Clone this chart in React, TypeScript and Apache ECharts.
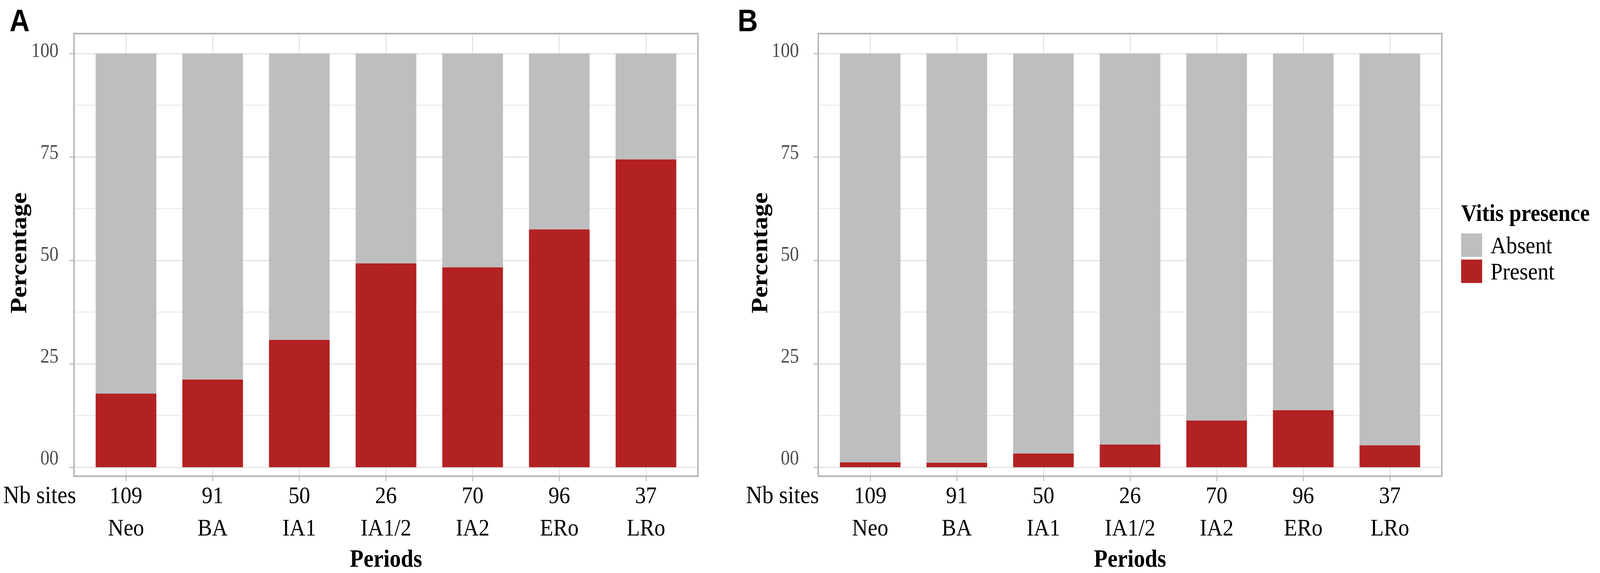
import React, { useEffect, useRef } from "react";
import * as echarts from "echarts";

// ---- data ----
const periods = ["Neo", "BA", "IA1", "IA1/2", "IA2", "ERo", "LRo"];
const nbSites = [109, 91, 50, 26, 70, 96, 37];
const yTickLabels = ["00", "25", "50", "75", "100"];

const presentA = [17.8, 21.2, 30.8, 49.3, 48.3, 57.5, 74.4];
const absentA = [82.2, 78.8, 69.2, 50.7, 51.7, 42.5, 25.6];
const presentB = [1.2, 1.1, 3.3, 5.5, 11.3, 13.8, 5.3];
const absentB = [98.8, 98.9, 96.7, 94.5, 88.7, 86.2, 94.7];

const COLOR_PRESENT = "#B22222";
const COLOR_ABSENT = "#BEBEBE";
const GRID_COLOR = "#DEDEDE";
const FRAME_COLOR = "#B3B3B3";
const SERIF = "'Liberation Serif', 'Times New Roman', serif";
const SANS = "'Liberation Sans', Arial, sans-serif";

const REF_W = 4562;
const REF_H = 1468;
const FRAME_TOP = 86;
const FRAME_H = 1134;
const Y100 = 137;
const Y0 = 1197;
const LABEL_TOP = 129;
const LABEL_BOTTOM = 1173;

function buildPanel(L: number, W: number, base: number, labelMargin: number, present: number[], absent: number[], stack: string) {
  const s = W / 7.2;
  const c1 = L + 0.6 * s;
  const cats = periods.map((p, i) => `${nbSites[i]}\n${p}`);
  const grids = [
    { left: L, top: FRAME_TOP, width: W, height: FRAME_H, show: true, borderColor: FRAME_COLOR, borderWidth: 4, backgroundColor: "transparent", z: 3 },
    { left: L, top: Y100, width: W, height: Y0 - Y100 },
    { left: L, top: LABEL_TOP, width: W, height: LABEL_BOTTOM - LABEL_TOP },
    { left: c1, top: FRAME_TOP, width: 6 * s, height: FRAME_H },
    { left: c1 - s / 2, top: Y100, width: 7 * s, height: Y0 - Y100 },
  ];
  const xAxes: any[] = [
    { gridIndex: base, type: "value", show: false },
    { gridIndex: base + 1, type: "value", show: false },
    { gridIndex: base + 2, type: "value", show: false },
    {
      gridIndex: base + 3,
      type: "category",
      data: cats,
      boundaryGap: false,
      position: "bottom",
      axisLine: { show: false },
      axisTick: { show: true, length: 13, lineStyle: { color: FRAME_COLOR, width: 2.5 } },
      splitLine: { show: true, lineStyle: { color: GRID_COLOR, width: 2.5 } },
      axisLabel: {
        interval: 0,
        margin: 7,
        color: "#000",
        fontSize: 62,
        lineHeight: 83,
        fontFamily: SERIF,
      },
    },
    { gridIndex: base + 4, type: "category", data: cats, show: false, boundaryGap: true },
  ];
  const yAxes: any[] = [
    { gridIndex: base, type: "value", show: false },
    {
      gridIndex: base + 1,
      type: "value",
      min: 0,
      max: 100,
      interval: 25,
      axisLine: { show: false },
      axisLabel: { show: false },
      axisTick: { show: true, length: 13, lineStyle: { color: FRAME_COLOR, width: 2.5 } },
      splitLine: { show: true, lineStyle: { color: GRID_COLOR, width: 2.5 } },
      minorTick: { show: false, splitNumber: 2 },
      minorSplitLine: { show: true, lineStyle: { color: GRID_COLOR, width: 1.3 } },
    },
    {
      gridIndex: base + 2,
      type: "value",
      min: 0,
      max: 100,
      interval: 25,
      axisLine: { show: false },
      axisTick: { show: false },
      splitLine: { show: false },
      axisLabel: {
        show: true,
        margin: labelMargin,
        color: "#4D4D4D",
        fontSize: 52,
        fontFamily: SERIF,
        formatter: (v: number) => yTickLabels[Math.round(v / 25)],
      },
    },
    { gridIndex: base + 3, type: "value", show: false },
    { gridIndex: base + 4, type: "value", min: 0, max: 100, show: false },
  ];
  const series: any[] = [
    {
      name: "Present",
      type: "bar",
      stack,
      xAxisIndex: base + 4,
      yAxisIndex: base + 4,
      barCategoryGap: "30%",
      itemStyle: { color: COLOR_PRESENT },
      data: present,
    },
    {
      name: "Absent",
      type: "bar",
      stack,
      xAxisIndex: base + 4,
      yAxisIndex: base + 4,
      barCategoryGap: "30%",
      itemStyle: { color: COLOR_ABSENT },
      data: absent,
    },
  ];
  return { grids, xAxes, yAxes, series };
}

export default function App() {
  const ref = useRef<HTMLDivElement>(null);
  const kx = typeof window !== "undefined" ? Math.min(1, window.innerWidth / REF_W) : 1;
  const ky = typeof window !== "undefined" ? Math.min(1, window.innerHeight / REF_H) : 1;
  useEffect(() => {
    if (!ref.current) return;
    const chart = echarts.init(ref.current, null, { renderer: "svg" });
    const LA = 211, WA = 1779;
    const LB = 2333, WB = 1778;
    const pA = buildPanel(LA, WA, 0, 44, presentA, absentA, "A");
    const pB = buildPanel(LB, WB, 5, 55, presentB, absentB, "B");

    const titleText = (text: string, x: number, y: number, opts: any = {}) => ({
      type: "text",
      x,
      y,
      rotation: opts.rotation || 0,
      style: {
        text,
        fill: "#000",
        fontFamily: opts.fontFamily || SERIF,
        fontSize: opts.fontSize || 64,
        fontWeight: opts.bold ? "bold" : "normal",
        align: opts.align || "center",
        verticalAlign: "middle",
      },
    });

    chart.setOption({
      animation: false,
      backgroundColor: "#ffffff",
      grid: [...pA.grids, ...pB.grids],
      xAxis: [...pA.xAxes, ...pB.xAxes],
      yAxis: [...pA.yAxes, ...pB.yAxes],
      series: [...pA.series, ...pB.series],
      legend: {
        data: ["Absent", "Present"],
        orient: "vertical",
        left: 4166,
        top: 597,
        padding: 0,
        itemWidth: 60,
        itemHeight: 60,
        itemGap: 5,
        icon: "rect",
        selectedMode: false,
        textStyle: { fontSize: 62, fontFamily: SERIF, color: "#000", padding: [0, 0, 0, 19] },
      },
      graphic: [
        titleText("A", 27, 52, { fontFamily: SANS, fontSize: 80, bold: true, align: "left" }),
        titleText("B", 2103, 52, { fontFamily: SANS, fontSize: 80, bold: true, align: "left" }),
        titleText("Percentage", 52, 648, { bold: true, fontSize: 66, rotation: Math.PI / 2 }),
        titleText("Percentage", 2165, 648, { bold: true, fontSize: 66, rotation: Math.PI / 2 }),
        titleText("Nb sites", 217, 1267, { fontSize: 64, align: "right" }),
        titleText("Nb sites", 2335, 1267, { fontSize: 64, align: "right" }),
        titleText("Periods", LA + WA / 2, 1430, { bold: true, fontSize: 64 }),
        titleText("Periods", LB + WB / 2, 1430, { bold: true, fontSize: 64 }),
        titleText("Vitis presence", 4166, 545, { bold: true, fontSize: 62, align: "left" }),
      ],
    });
    return () => chart.dispose();
  }, []);
  return (
    <div
      style={{ position: "fixed", left: 0, top: 0, width: "100vw", height: "100vh", overflow: "hidden", background: "#fff" }}
    >
      <div
        ref={ref}
        style={{
          position: "absolute",
          left: 0,
          top: 0,
          width: REF_W,
          height: REF_H,
          transform: `scale(${kx}, ${ky})`,
          transformOrigin: "0 0",
          background: "#fff",
        }}
      />
    </div>
  );
}
